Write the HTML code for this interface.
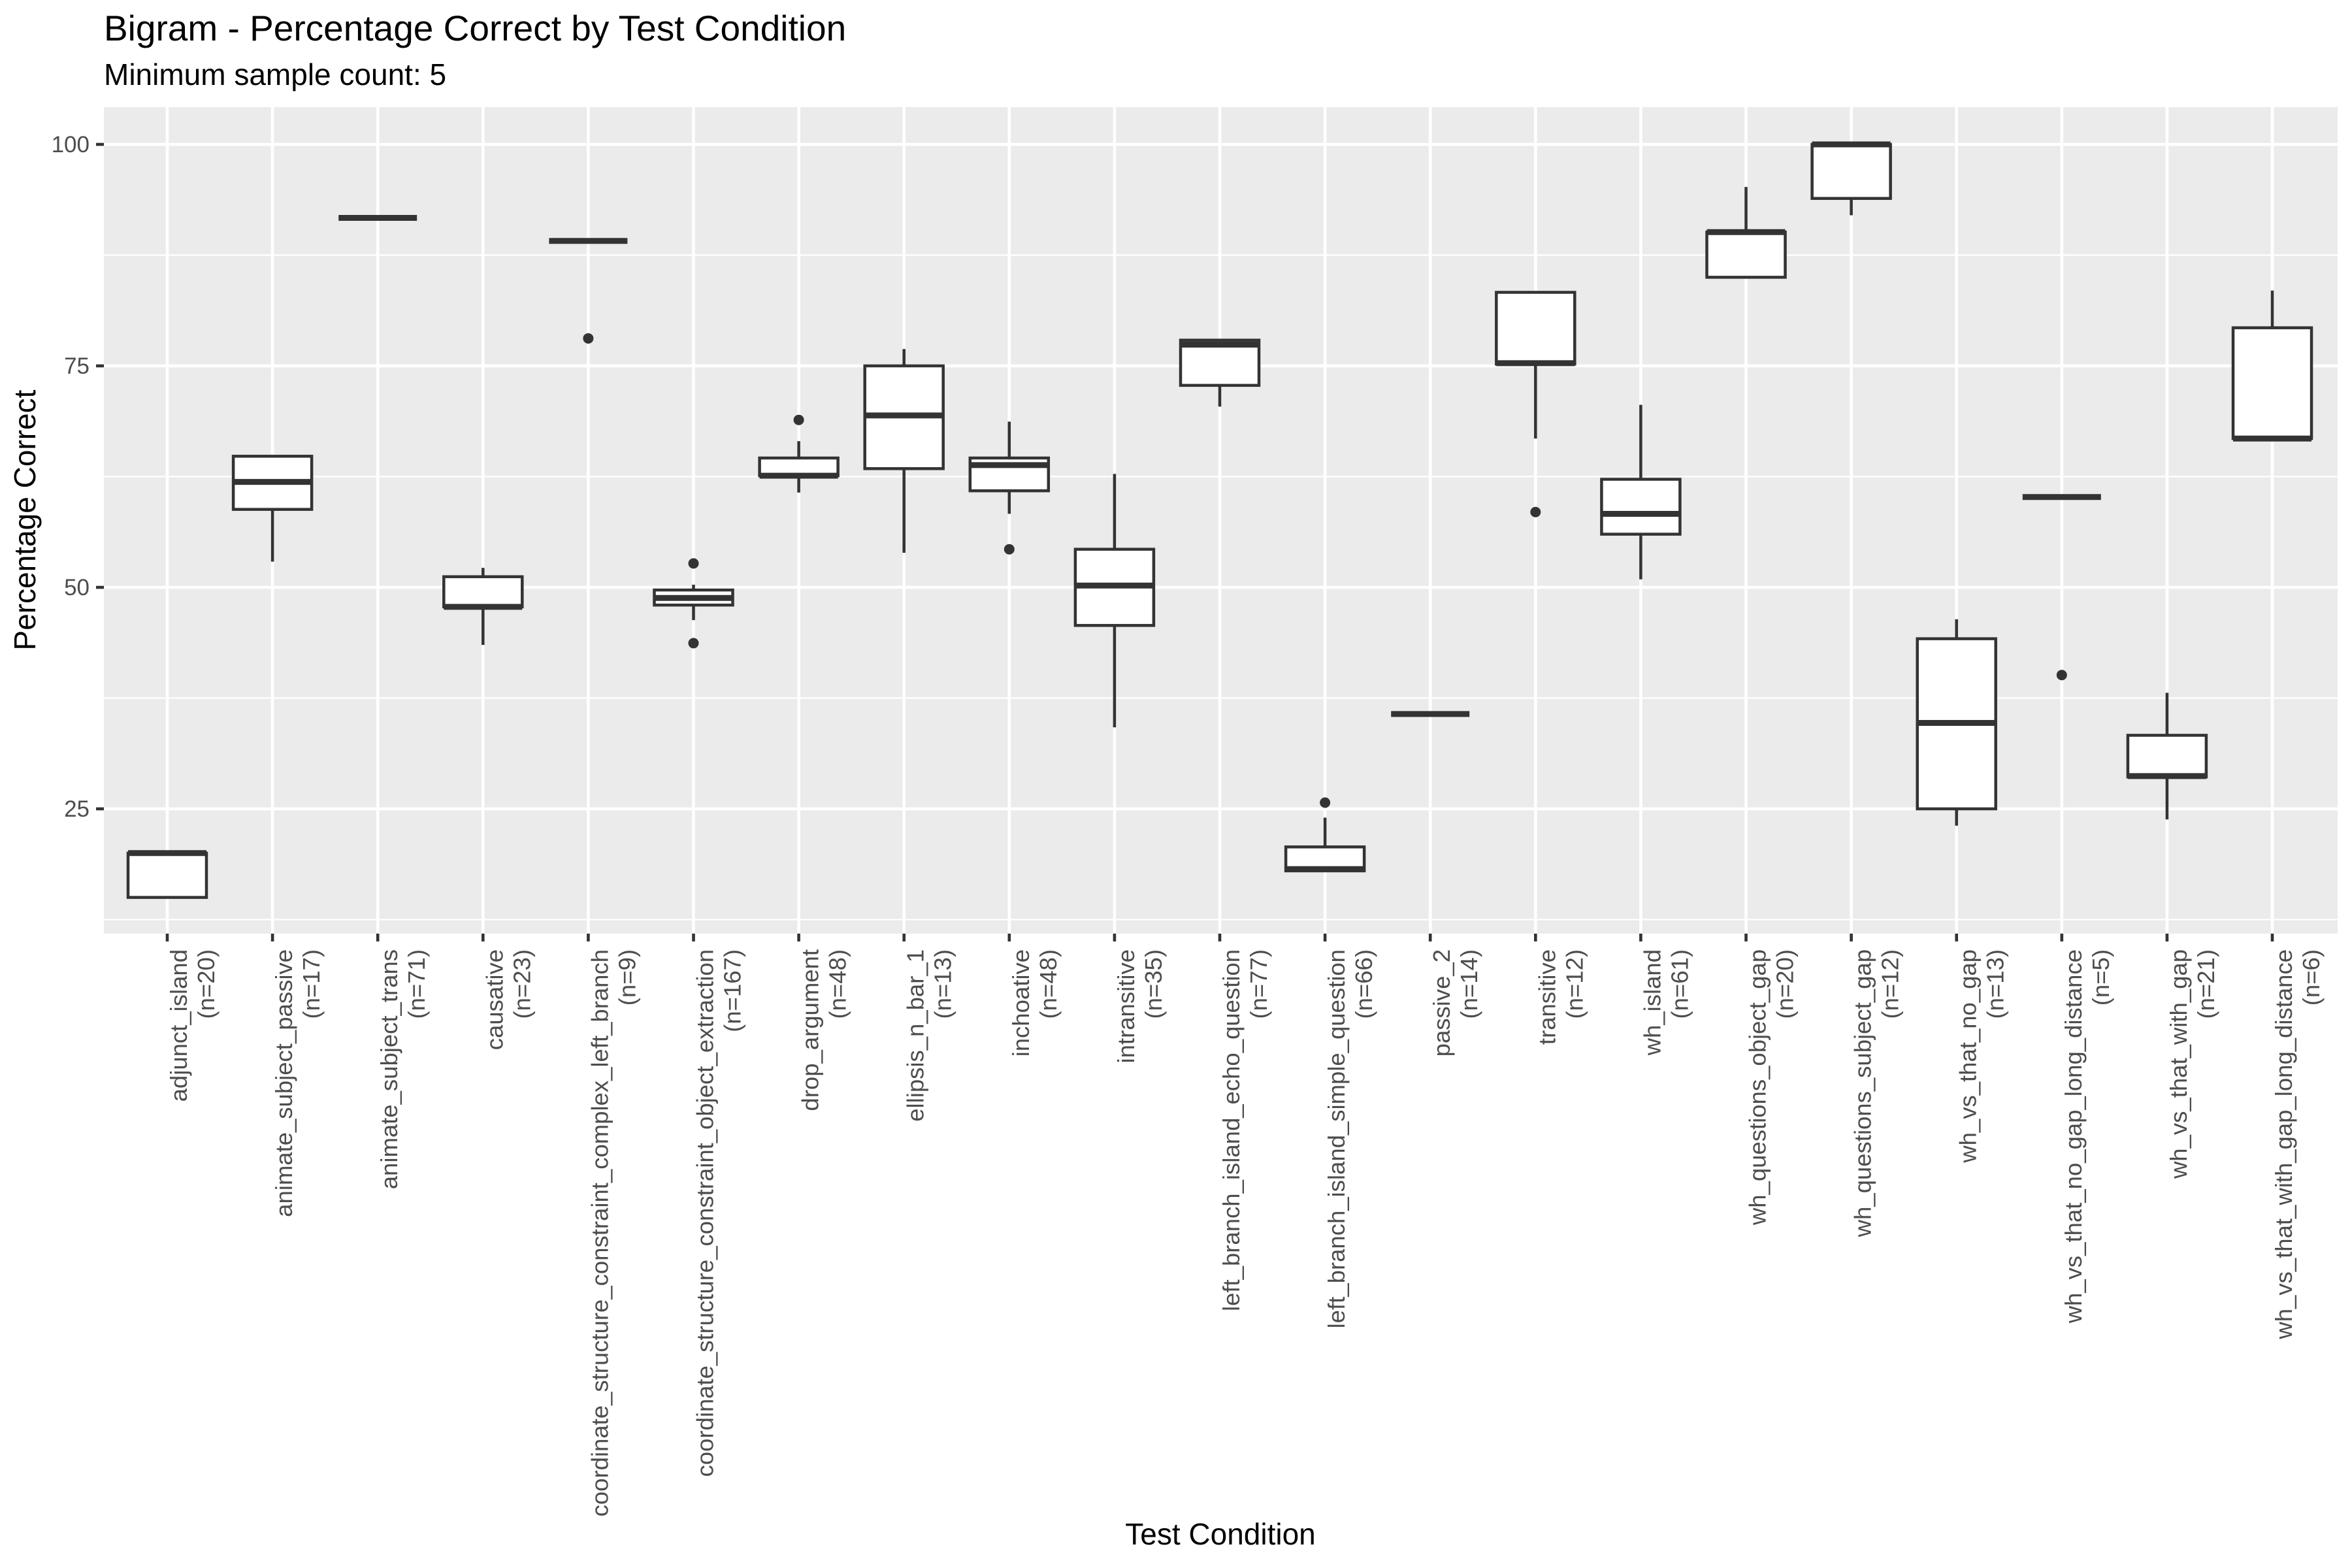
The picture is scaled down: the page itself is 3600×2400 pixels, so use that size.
<!DOCTYPE html>
<html><head><meta charset="utf-8"><style>
html,body{margin:0;padding:0;background:#fff;}
svg{display:block;font-family:"Liberation Sans",sans-serif;}
</style></head><body>
<svg id="chart" width="3600" height="2400" viewBox="0 0 3600 2400" xmlns="http://www.w3.org/2000/svg">
<rect width="3600" height="2400" fill="#fff"/>
<text x="159" y="62" font-size="55" fill="#000">Bigram - Percentage Correct by Test Condition</text>
<text x="159" y="130" font-size="46" fill="#000">Minimum sample count: 5</text>
<rect x="159" y="164" width="3419" height="1265" fill="#ebebeb"/>
<g id="grid"></g>
<g id="boxes"></g>
<g id="axes"></g>
<text transform="translate(54,796) rotate(-90)" text-anchor="middle" font-size="46" fill="#000">Percentage Correct</text>
<text x="1868" y="2364" text-anchor="middle" font-size="46" fill="#000">Test Condition</text>
</svg>
<script>
const categories=["adjunct_island","animate_subject_passive","animate_subject_trans","causative","coordinate_structure_constraint_complex_left_branch","coordinate_structure_constraint_object_extraction","drop_argument","ellipsis_n_bar_1","inchoative","intransitive","left_branch_island_echo_question","left_branch_island_simple_question","passive_2","transitive","wh_island","wh_questions_object_gap","wh_questions_subject_gap","wh_vs_that_no_gap","wh_vs_that_no_gap_long_distance","wh_vs_that_with_gap","wh_vs_that_with_gap_long_distance"];
const counts=[20,17,71,23,9,167,48,13,48,35,77,66,14,12,61,20,12,13,5,21,6];
const lowerW=[15,52.9,91.7,43.5,89.1,46.3,60.7,53.9,58.3,34.2,70.4,18,35.7,66.8,50.9,85.0,92.0,23.1,60.2,23.8,66.8];
const q1=[15,58.8,91.7,47.8,89.1,48.0,62.6,63.4,60.9,45.7,72.8,18,35.7,75.2,56.0,85.0,93.9,25,60.2,28.6,66.8];
const medians=[20,61.9,91.7,47.8,89.1,48.8,62.6,69.4,63.8,50.2,77.4,18.2,35.7,75.3,58.3,90.1,100,34.7,60.2,28.7,66.8];
const q3=[20,64.8,91.7,51.2,89.1,49.7,64.6,75,64.6,54.3,77.9,20.7,35.7,83.3,62.2,90.1,100,44.2,60.2,33.3,79.3];
const upperW=[20,64.8,91.7,52.2,89.1,50.3,66.5,76.9,68.7,62.8,77.9,24,35.7,83.3,70.6,95.2,100,46.4,60.2,38.1,83.5];
const outlierCat=[4,5,5,6,8,11,13,18];
const outlierVal=[78.1,52.7,43.7,68.9,54.3,25.7,58.5,40.1];
const yTicks=[25,50,75,100];
const yMinor=[12.5,37.5,62.5,87.5];

const NS="http://www.w3.org/2000/svg";
const X0=256, DX=161.1, PL=159, PR=3578, PT=164, PB=1429;
const xs=i=>X0+i*DX;
const ys=v=>221+(100-v)*13.56;
function mk(tag,attrs,parent){const e=document.createElementNS(NS,tag);for(const k in attrs)e.setAttribute(k,attrs[k]);parent.appendChild(e);return e;}
const grid=document.getElementById('grid'),boxes=document.getElementById('boxes'),axes=document.getElementById('axes');

yMinor.forEach(v=>{const l=mk('line',{x1:PL,x2:PR,y1:ys(v),y2:ys(v),stroke:'#fff','stroke-width':2.3},grid);

});
yTicks.forEach(v=>{const l=mk('line',{x1:PL,x2:PR,y1:ys(v),y2:ys(v),stroke:'#fff','stroke-width':4.6},grid);


const t=mk('line',{x1:147,x2:PL,y1:ys(v),y2:ys(v),stroke:'#333','stroke-width':4.6},axes);


const lb=mk('text',{x:137,y:ys(v)+12,'text-anchor':'end','font-size':35,fill:'#4d4d4d'},axes);
lb.textContent=v;

});

categories.forEach((c,i)=>{const x=xs(i);
const g1=mk('line',{x1:x,x2:x,y1:PT,y2:PB,stroke:'#fff','stroke-width':4.6},grid);


const t=mk('line',{x1:x,x2:x,y1:PB,y2:PB+12,stroke:'#333','stroke-width':4.6},axes);


const lb=mk('text',{transform:`translate(${x+30},1453) rotate(-90)`,'text-anchor':'end','font-size':36.5,fill:'#4d4d4d'},axes);


const s1=mk('tspan',{x:0,y:0},lb);s1.textContent=c;
const s2=mk('tspan',{x:0,y:42},lb);s2.textContent='(n='+counts[i]+')';

const g=mk('g',{},boxes);


const hw=60;
mk('line',{x1:x,x2:x,y1:ys(upperW[i]),y2:ys(q3[i]),stroke:'#333','stroke-width':4.5},g);
mk('line',{x1:x,x2:x,y1:ys(q1[i]),y2:ys(lowerW[i]),stroke:'#333','stroke-width':4.5},g);
mk('rect',{x:x-hw,y:ys(q3[i]),width:2*hw,height:Math.max(0,ys(q1[i])-ys(q3[i])),fill:'#fff',stroke:'#333','stroke-width':4.5},g);
mk('line',{x1:x-hw,x2:x+hw,y1:ys(medians[i]),y2:ys(medians[i]),stroke:'#333','stroke-width':9},g);
});
outlierCat.forEach((ci,k)=>{const c=mk('circle',{cx:xs(ci),cy:ys(outlierVal[k]),r:8,fill:'#333'},boxes);

});
</script>
</body></html>
